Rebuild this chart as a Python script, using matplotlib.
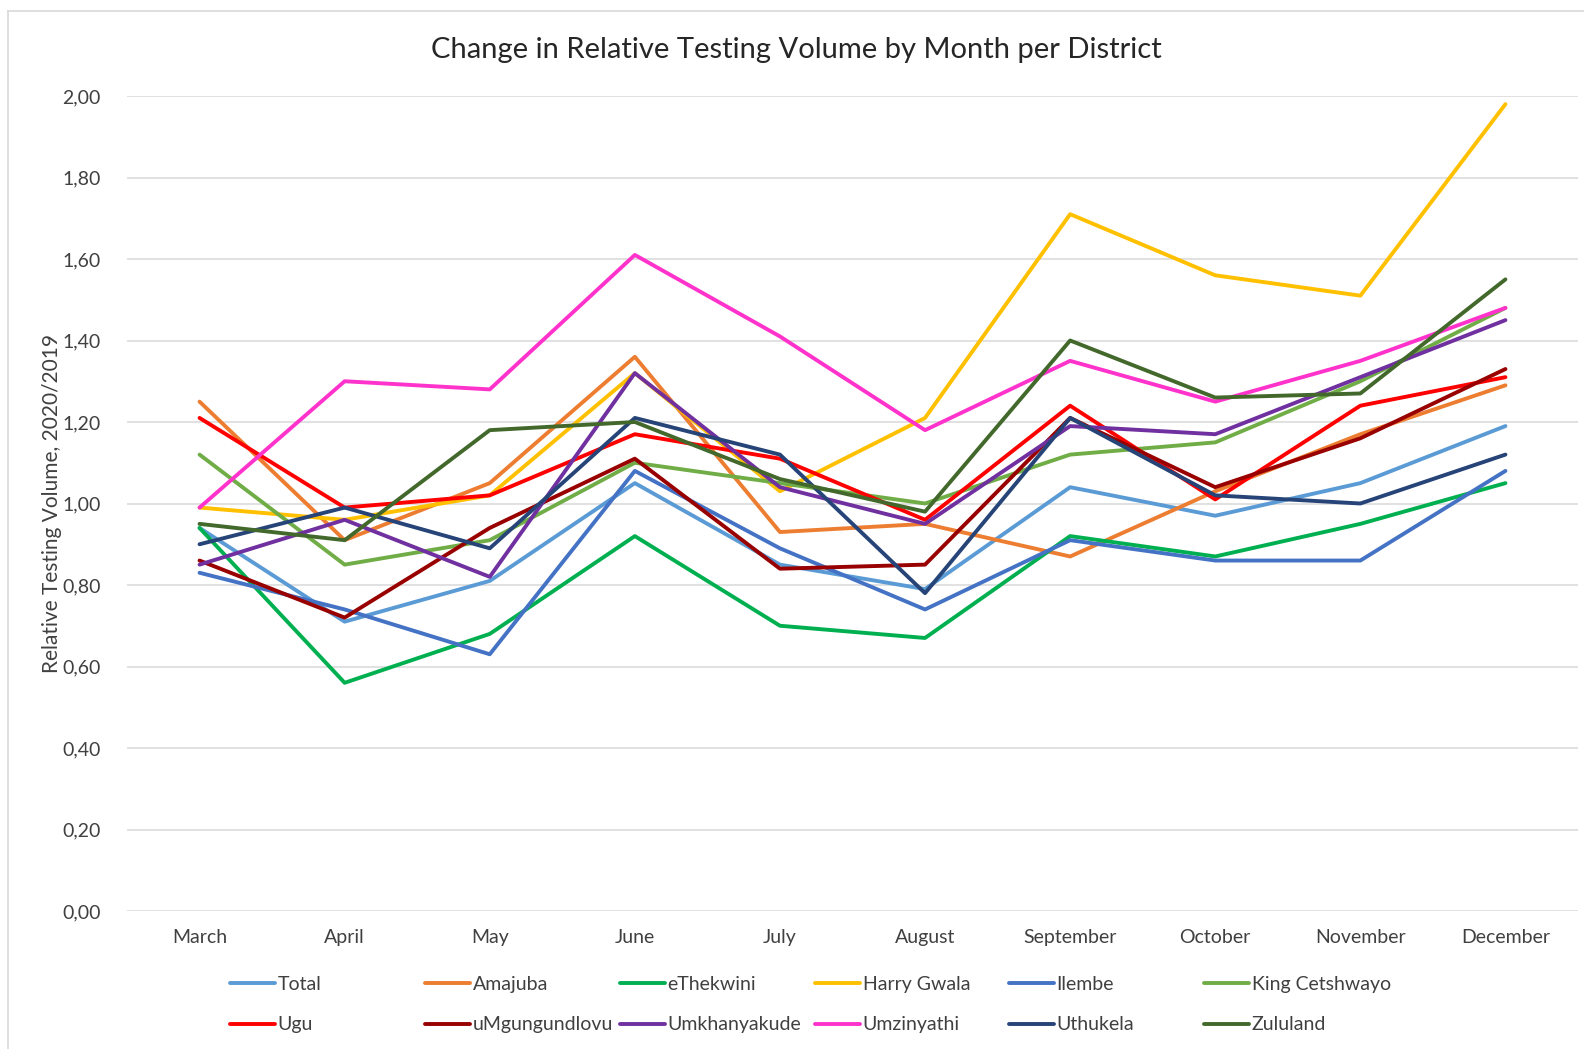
import matplotlib.pyplot as plt
from matplotlib.lines import Line2D
from matplotlib.ticker import FuncFormatter

plt.rcParams['font.family'] = ['Lato', 'DejaVu Sans']

months = ['March', 'April', 'May', 'June', 'July', 'August',
          'September', 'October', 'November', 'December']

total          = [0.94, 0.71, 0.81, 1.05, 0.85, 0.79, 1.04, 0.97, 1.05, 1.19]
amajuba        = [1.25, 0.91, 1.05, 1.36, 0.93, 0.95, 0.87, 1.03, 1.17, 1.29]
ethekwini      = [0.94, 0.56, 0.68, 0.92, 0.70, 0.67, 0.92, 0.87, 0.95, 1.05]
harry_gwala    = [0.99, 0.96, 1.02, 1.32, 1.03, 1.21, 1.71, 1.56, 1.51, 1.98]
ilembe         = [0.83, 0.74, 0.63, 1.08, 0.89, 0.74, 0.91, 0.86, 0.86, 1.08]
king_cetshwayo = [1.12, 0.85, 0.91, 1.10, 1.05, 1.00, 1.12, 1.15, 1.30, 1.48]
ugu            = [1.21, 0.99, 1.02, 1.17, 1.11, 0.96, 1.24, 1.01, 1.24, 1.31]
umgungundlovu  = [0.86, 0.72, 0.94, 1.11, 0.84, 0.85, 1.21, 1.04, 1.16, 1.33]
umkhanyakude   = [0.85, 0.96, 0.82, 1.32, 1.04, 0.95, 1.19, 1.17, 1.31, 1.45]
umzinyathi     = [0.99, 1.30, 1.28, 1.61, 1.41, 1.18, 1.35, 1.25, 1.35, 1.48]
uthukela       = [0.90, 0.99, 0.89, 1.21, 1.12, 0.78, 1.21, 1.02, 1.00, 1.12]
zululand       = [0.95, 0.91, 1.18, 1.20, 1.06, 0.98, 1.40, 1.26, 1.27, 1.55]

names = ['Total', 'Amajuba', 'eThekwini', 'Harry Gwala', 'Ilembe', 'King Cetshwayo',
         'Ugu', 'uMgungundlovu', 'Umkhanyakude', 'Umzinyathi', 'Uthukela', 'Zululand']
series = [total, amajuba, ethekwini, harry_gwala, ilembe, king_cetshwayo,
          ugu, umgungundlovu, umkhanyakude, umzinyathi, uthukela, zululand]
colors = ['#5B9BD5', '#ED7D31', '#00B050', '#FFC000', '#4472C4', '#70AD47',
          '#FF0000', '#990000', '#7030A0', '#FF33CC', '#264478', '#43682B']

fig = plt.figure(figsize=(15.84, 10.49), dpi=100)
ax = fig.add_axes([127/1584, 1 - 911/1049, 1451/1584, 815/1049])

x = range(len(months))
handles = []
for name, vals, c in zip(names, series, colors):
    h, = ax.plot(x, vals, color=c, lw=2.8, label=name, solid_capstyle='round')
    handles.append(h)

ax.set_xlim(-0.5, len(months) - 0.5)
ax.set_ylim(0, 2.0)
ax.set_yticks([i * 0.2 for i in range(11)])
ax.yaxis.set_major_formatter(FuncFormatter(lambda v, p: f'{v:.2f}'.replace('.', ',')))
ax.set_xticks(list(x))
ax.set_xticklabels(months)
ax.tick_params(axis='both', length=0, labelsize=14, labelcolor='#404040')
ax.tick_params(axis='y', pad=19)
ax.tick_params(axis='x', pad=13)
ax.grid(axis='y', color='#D9D9D9', lw=1.1)
ax.set_axisbelow(True)
for s in ax.spines.values():
    s.set_visible(False)

ax.set_ylabel('Relative Testing Volume, 2020/2019', fontsize=15, color='#404040', labelpad=0)
fig.text(0.503, 1 - 50/1049, 'Change in Relative Testing Volume by Month per District',
         ha='center', va='center', fontsize=21, color='#262626')

# legend, one column at a time so spacing matches the equal-width columns
col_x = [230, 425, 620, 815, 1009, 1204]
for i, cx in enumerate(col_x):
    fig.legend([handles[i], handles[i + 6]], [names[i], names[i + 6]],
               loc='upper left', bbox_to_anchor=(cx / 1584, 1 - 976/1049),
               frameon=False, fontsize=14, handlelength=2.3, handletextpad=0.15,
               labelspacing=1.2, borderpad=0, borderaxespad=0, labelcolor='#404040')

# outer chart border (left and top edges)
fig.add_artist(Line2D([8/1584, 8/1584], [0, 1 - 11/1049], transform=fig.transFigure,
                      color='#D9D9D9', lw=1.2))
fig.add_artist(Line2D([8/1584, 1], [1 - 11/1049, 1 - 11/1049], transform=fig.transFigure,
                      color='#D9D9D9', lw=1.2))

fig.savefig('out.png', dpi=100)
